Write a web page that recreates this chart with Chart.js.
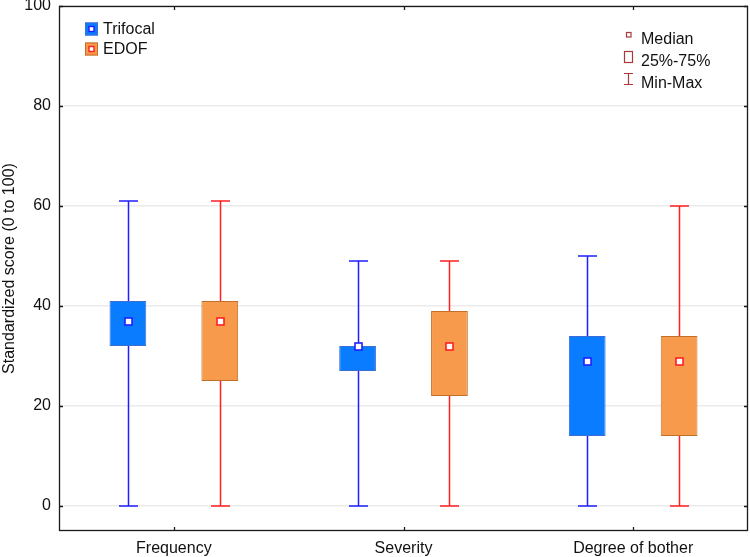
<!DOCTYPE html>
<html>
<head>
<meta charset="utf-8">
<script src="https://cdn.jsdelivr.net/npm/chart.js@4.4.0/dist/chart.umd.min.js"></script>
<style>
  html, body { margin: 0; padding: 0; background: #fff; }
  #wrap { width: 750px; height: 557px; }
</style>
</head>
<body>
<div id="wrap"><canvas id="myChart" width="750" height="557"></canvas></div>
<script>
// data
var categories = ['Frequency', 'Severity', 'Degree of bother']
var yTicks = [0, 20, 40, 60, 80, 100]

var trifocalMin = [0, 0, 0]
var trifocalQ1 = [32, 27, 14]
var trifocalMedian = [37, 32, 29]
var trifocalQ3 = [41, 32, 34]
var trifocalMax = [61, 49, 50]

var edofMin = [0, 0, 0]
var edofQ1 = [25, 22, 14]
var edofMedian = [37, 32, 29]
var edofQ3 = [41, 39, 34]
var edofMax = [61, 49, 60]

const FONT = '"Liberation Sans", Arial, sans-serif'

// whiskers behind the boxes, medians on top
const whiskerPlugin = {
  id: 'whiskers',
  beforeDatasetsDraw(chart) {
    const ctx = chart.ctx, y = chart.scales.y
    chart.data.datasets.forEach((ds, i) => {
      const meta = chart.getDatasetMeta(i)
      meta.data.forEach((el, j) => {
        const x = Math.round(el.x) + 0.5
        const yMin = y.getPixelForValue(ds.whiskerMin[j])
        const yMax = y.getPixelForValue(ds.whiskerMax[j])
        ctx.save()
        ctx.strokeStyle = ds.whiskerColor
        ctx.lineWidth = 1.5
        ctx.beginPath()
        ctx.moveTo(x, yMin); ctx.lineTo(x, yMax)
        ctx.moveTo(x - 9.5, yMin); ctx.lineTo(x + 9.5, yMin)
        ctx.moveTo(x - 9.5, yMax); ctx.lineTo(x + 9.5, yMax)
        ctx.stroke()
        ctx.restore()
      })
    })
  },
  afterDatasetsDraw(chart) {
    const ctx = chart.ctx, y = chart.scales.y
    chart.data.datasets.forEach((ds, i) => {
      const meta = chart.getDatasetMeta(i)
      meta.data.forEach((el, j) => {
        const x = Math.round(el.x) + 0.5
        const ym = Math.round(y.getPixelForValue(ds.median[j])) + 0.5
        ctx.save()
        ctx.fillStyle = '#fff'
        ctx.strokeStyle = ds.whiskerColor
        ctx.lineWidth = 1.6
        ctx.fillRect(x - 3.5, ym - 3.5, 7, 7)
        ctx.strokeRect(x - 3.5, ym - 3.5, 7, 7)
        ctx.restore()
      })
    })
  }
}

// frame, inner ticks and the two legends
const framePlugin = {
  id: 'frame',
  afterDraw(chart) {
    const ctx = chart.ctx, a = chart.chartArea
    const x = chart.scales.x, y = chart.scales.y
    ctx.save()
    ctx.strokeStyle = '#1a1a1a'
    ctx.lineWidth = 1.3
    ctx.strokeRect(a.left + 0.5, a.top + 0.5, a.right - a.left - 1, a.bottom - a.top - 1)
    ctx.beginPath()
    categories.forEach((c, i) => {
      const px = Math.round(x.getPixelForValue(i)) + 0.5
      ctx.moveTo(px, a.bottom); ctx.lineTo(px, a.bottom - 4)
      ctx.moveTo(px, a.top); ctx.lineTo(px, a.top + 4)
    })
    yTicks.forEach(v => {
      const py = Math.round(y.getPixelForValue(v)) + 0.5
      ctx.moveTo(a.left, py); ctx.lineTo(a.left + 4, py)
      ctx.moveTo(a.right, py); ctx.lineTo(a.right - 4, py)
    })
    ctx.stroke()

    // series legend
    ctx.font = '16px ' + FONT
    ctx.textBaseline = 'middle'
    chart.data.datasets.forEach((ds, i) => {
      const cy = 29 + i * 20
      ctx.fillStyle = ds.backgroundColor
      ctx.fillRect(85, cy - 6.5, 13, 13)
      ctx.strokeStyle = ds.borderColor
      ctx.lineWidth = 1
      ctx.strokeRect(85.5, cy - 6, 12, 12)
      ctx.fillStyle = '#fff'
      ctx.fillRect(89, cy - 2.5, 5, 5)
      ctx.strokeStyle = ds.whiskerColor
      ctx.lineWidth = 1.4
      ctx.strokeRect(89, cy - 2.5, 5, 5)
      ctx.fillStyle = '#111'
      ctx.fillText(ds.label, 103, cy + 1)
    })

    // statistics legend
    const red = '#a83a3a'
    ctx.strokeStyle = red
    ctx.lineWidth = 1.2
    ctx.strokeRect(626.5, 32.5, 4.5, 4.5)
    ctx.strokeRect(624.5, 51.5, 8, 11)
    ctx.beginPath()
    ctx.moveTo(628.5, 73); ctx.lineTo(628.5, 84.5)
    ctx.moveTo(624, 73.5); ctx.lineTo(633, 73.5)
    ctx.moveTo(624, 84.5); ctx.lineTo(633, 84.5)
    ctx.stroke()
    ctx.fillStyle = '#111'
    ctx.fillText('Median', 641, 40)
    ctx.fillText('25%-75%', 641, 62)
    ctx.fillText('Min-Max', 641, 84)
    ctx.restore()
  }
}

const ctx = document.getElementById('myChart').getContext('2d')

const chart = new Chart(ctx, {
  type: 'bar',
  data: {
    labels: categories,
    datasets: [{
      label: 'Trifocal',
      data: trifocalQ1.map((v, i) => [v, trifocalQ3[i]]),
      backgroundColor: '#0a7cff',
      borderColor: '#3b6fd6',
      borderWidth: 1,
      borderSkipped: false,
      whiskerMin: trifocalMin,
      whiskerMax: trifocalMax,
      median: trifocalMedian,
      whiskerColor: '#1f1fff'
    }, {
      label: 'EDOF',
      data: edofQ1.map((v, i) => [v, edofQ3[i]]),
      backgroundColor: '#f79a4b',
      borderColor: '#c26f2a',
      borderWidth: 1,
      borderSkipped: false,
      whiskerMin: edofMin,
      whiskerMax: edofMax,
      median: edofMedian,
      whiskerColor: '#ff2020'
    }]
  },
  options: {
    responsive: false,
    animation: false,
    categoryPercentage: 0.8,
    barPercentage: 0.4,
    layout: { padding: { top: 6, right: 2, left: 0, bottom: 0 } },
    plugins: {
      legend: { display: false },
      tooltip: { enabled: false }
    },
    scales: {
      x: {
        grid: { display: false, drawTicks: false },
        border: { display: false },
        ticks: { color: '#111', font: { family: FONT, size: 16 }, padding: 8 },
        afterFit(s) { s.height = 26; s.paddingLeft = 0; s.paddingRight = 0 }
      },
      y: {
        min: -5,
        max: 100,
        afterBuildTicks(s) { s.ticks = yTicks.map(v => ({ value: v })) },
        grid: { color: '#ebebeb', lineWidth: 1.5, drawTicks: false },
        border: { display: false },
        ticks: { color: '#111', font: { family: FONT, size: 16 }, padding: 8 },
        title: {
          display: true,
          text: 'Standardized score (0 to 100)',
          color: '#111',
          font: { family: FONT, size: 16 },
          padding: { top: 0, bottom: 0 }
        },
        afterFit(s) { s.width = 59; s.paddingTop = 0; s.paddingBottom = 0 }
      }
    }
  },
  plugins: [whiskerPlugin, framePlugin]
})
</script>
</body>
</html>
